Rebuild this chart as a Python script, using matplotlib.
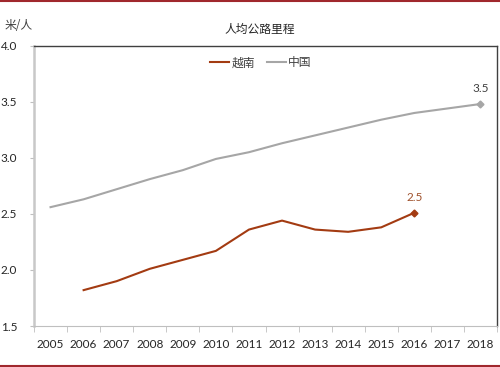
import numpy as np
import matplotlib.pyplot as plt
from matplotlib.lines import Line2D

plt.rcParams['font.family'] = ['Lato', 'Noto Sans CJK SC', 'DejaVu Sans']

years = ['2005', '2006', '2007', '2008', '2009', '2010', '2011',
         '2012', '2013', '2014', '2015', '2016', '2017', '2018']
# 越南: 2006-2016
vietnam_years = ['2006', '2007', '2008', '2009', '2010', '2011',
                 '2012', '2013', '2014', '2015', '2016']
vietnam = [1.82, 1.90, 2.01, 2.09, 2.17, 2.36, 2.44, 2.36, 2.34, 2.38, 2.51]
# 中国: 2005-2018
china = [2.56, 2.63, 2.72, 2.81, 2.89, 2.99, 3.05, 3.13, 3.20, 3.27, 3.34, 3.40, 3.44, 3.48]

VN_COLOR = '#A33B12'
CN_COLOR = '#A6A6A6'

fig = plt.figure(figsize=(5.0, 3.67), dpi=100)
ax = fig.add_axes([0.068, 0.1117, 0.926, 0.7638])

xpos = {y: i for i, y in enumerate(years)}
vx = [xpos[y] for y in vietnam_years]
cx = np.arange(len(years))

ax.plot(vx, vietnam, color=VN_COLOR, lw=1.5, label='越南')
ax.plot(cx, china, color=CN_COLOR, lw=1.5, label='中国')
ax.plot(vx[-1], vietnam[-1], marker='D', ms=3.5, color=VN_COLOR)
ax.plot(cx[-1], china[-1], marker='D', ms=3.5, color=CN_COLOR)

ax.annotate(f'{vietnam[-1]:.1f}', (vx[-1], vietnam[-1]), xytext=(0, 7),
            textcoords='offset points', ha='center', va='bottom',
            fontsize=8.5, color='#A0522D')
ax.annotate(f'{china[-1]:.1f}', (cx[-1], china[-1]), xytext=(0, 7),
            textcoords='offset points', ha='center', va='bottom',
            fontsize=8.5, color='#404040')

ax.set_xlim(-0.5, len(years) - 0.5)
ax.set_ylim(1.5, 4.0)
yt = np.arange(1.5, 4.01, 0.5)
ax.set_yticks(yt)
ax.set_yticklabels([f'{v:.1f}' for v in yt])
ax.set_xticks(cx)
ax.set_xticklabels(years)
ax.set_xticks(np.arange(-0.5, len(years)), minor=True)
ax.tick_params(axis='x', which='major', length=0, pad=9, labelsize=8.5, colors='#262626')
ax.tick_params(axis='x', which='minor', length=4, color='#BFBFBF', direction='out')
ax.tick_params(axis='y', length=3, color='#BFBFBF', labelsize=8.5, labelcolor='#262626', pad=9)

ax.spines['left'].set_color('#C8C8C8')
ax.spines['left'].set_linewidth(1.8)
ax.spines['bottom'].set_color('#BFBFBF')
ax.spines['top'].set_color('#404040')
ax.spines['right'].set_color('#404040')
ax.spines['top'].set_linewidth(1.0)
ax.spines['right'].set_linewidth(1.0)

leg = ax.legend(loc='upper center', bbox_to_anchor=(0.49, 1.0), ncol=2, frameon=False,
                handlelength=1.6, handletextpad=0.2, columnspacing=1.0,
                prop={'family': ['Noto Sans CJK SC'], 'size': 8.5})
for t in leg.get_texts():
    t.set_color('#404040')

fig.text(0.52, 0.92, '人均公路里程', ha='center', va='center', fontsize=8.5,
         family=['Noto Sans CJK SC'], color='#262626')
fig.text(0.01, 0.93, '米/人', ha='left', va='center', fontsize=8.5,
         family=['Noto Sans CJK SC'], color='#404040')

# dark red frame lines at top and bottom of the figure
fig.add_artist(Line2D([0, 1], [0.998, 0.998], color='#A0282D', lw=1.5, transform=fig.transFigure))
fig.add_artist(Line2D([0, 1], [0.004, 0.004], color='#A0282D', lw=1.5, transform=fig.transFigure))

fig.savefig('out.png', dpi=100)
